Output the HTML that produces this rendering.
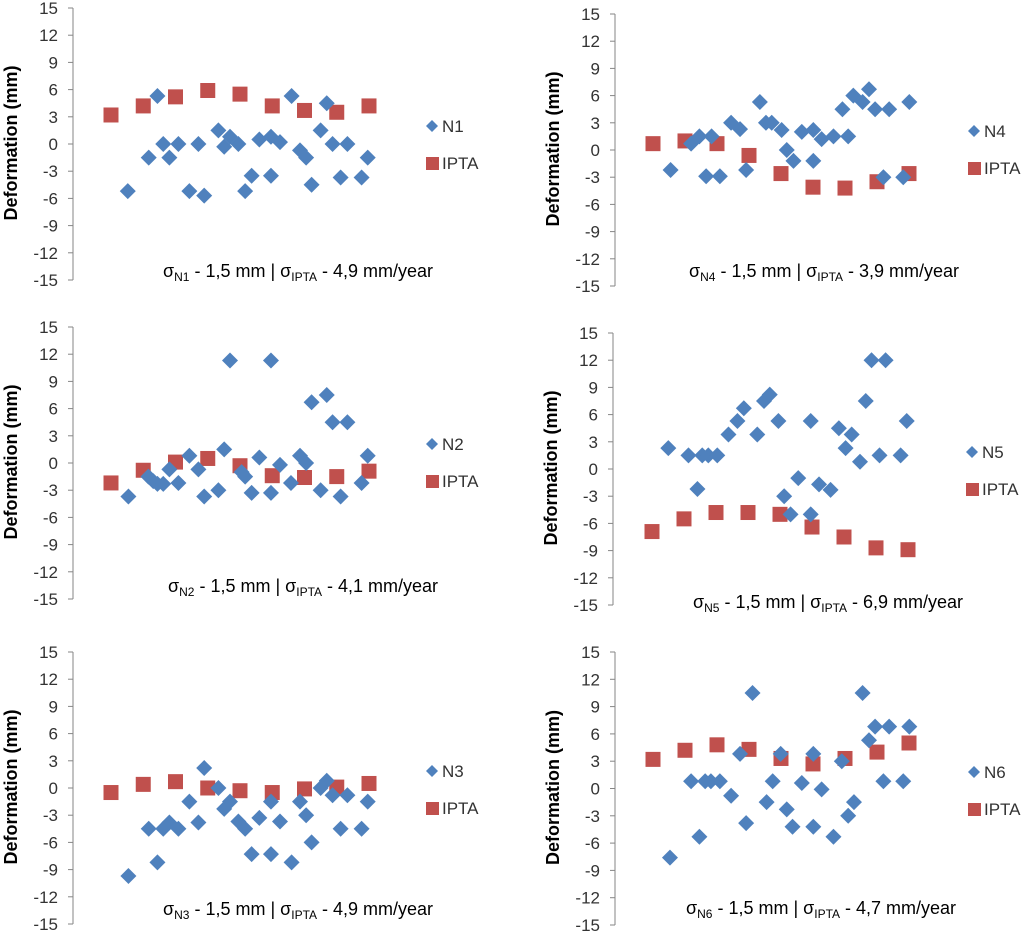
<!DOCTYPE html>
<html><head><meta charset="utf-8"><style>
html,body{margin:0;padding:0;background:#fff;}
svg{display:block;font-family:"Liberation Sans",Arial,sans-serif;}
</style></head><body>
<svg id="chart" width="1024" height="934" viewBox="0 0 1024 934" xmlns="http://www.w3.org/2000/svg"></svg>
<script>
const yTicks = [15,12,9,6,3,0,-3,-6,-9,-12,-15];
const panelNames = ["N1","N2","N3","N4","N5","N6"];
const sigmaIPTA = ["4,9","4,1","4,9","3,9","6,9","4,7"];
const n1X = [0.52,1.17,1.44,1.62,1.81,2.09,2.43,2.71,2.89,3.33,3.51,3.69,3.95,4.16,4.36,4.60,4.96,4.96,5.24,5.60,5.86,6.05,6.22,6.50,6.69,6.87,7.12,7.33,7.77,7.96];
const n1Y = [-5.2,-1.5,5.3,0,-1.5,0,-5.2,0,-5.7,1.5,-0.3,0.8,0,-5.2,-3.5,0.5,0.8,-3.5,0.2,5.3,-0.7,-1.5,-4.5,1.5,4.5,0,-3.7,0,-3.7,-1.5];
const n2X = [0.54,1.16,1.31,1.44,1.62,1.81,2.09,2.43,2.71,2.89,3.33,3.51,3.69,4.05,4.16,4.36,4.60,4.96,4.96,5.24,5.58,5.86,6.05,6.22,6.50,6.69,6.87,7.12,7.33,7.77,7.96];
const n2Y = [-3.7,-1.5,-2,-2.3,-2.3,-0.7,-2.2,0.8,-0.7,-3.7,-3.0,1.5,11.3,-1.0,-1.5,-3.3,0.6,11.3,-3.3,-0.2,-2.2,0.8,0,6.7,-3.0,7.5,4.5,-3.7,4.5,-2.2,0.8];
const n3X = [0.54,1.17,1.44,1.62,1.81,2.09,2.43,2.71,2.89,3.33,3.51,3.69,3.95,4.16,4.36,4.60,4.96,4.96,5.24,5.60,5.86,6.05,6.22,6.50,6.69,6.87,7.12,7.33,7.77,7.96];
const n3Y = [-9.7,-4.5,-8.2,-4.5,-3.8,-4.5,-1.5,-3.8,2.2,0,-2.3,-1.5,-3.7,-4.5,-7.3,-3.3,-7.3,-1.5,-3.7,-8.2,-1.5,-3.0,-6.0,0,0.8,-0.8,-4.5,-0.8,-4.5,-1.5];
const n4X = [0.55,1.19,1.45,1.66,1.83,2.09,2.44,2.72,2.91,3.34,3.53,3.71,4.02,4.18,4.39,4.65,5.01,5.01,5.27,5.64,5.92,6.10,6.26,6.55,6.75,6.94,7.20,7.38,7.82,8.01];
const n4Y = [-2.2,0.7,1.5,-2.9,1.5,-2.9,3.0,2.3,-2.2,5.3,3.0,3.0,2.2,0,-1.2,2.0,2.2,-1.2,1.2,1.5,4.5,1.5,6.0,5.3,6.7,4.5,-3.0,4.5,-3.0,5.3];
const n5X = [0.51,1.14,1.42,1.57,1.76,2.04,2.39,2.67,2.87,3.29,3.50,3.68,3.95,4.13,4.33,4.57,4.96,4.96,5.22,5.58,5.84,6.05,6.24,6.50,6.68,6.86,7.11,7.30,7.77,7.96];
const n5Y = [2.3,1.5,-2.2,1.5,1.5,1.5,3.8,5.3,6.7,3.8,7.5,8.2,5.3,-3.0,-5.0,-1.0,5.3,-5.0,-1.7,-2.3,4.5,2.3,3.8,0.8,7.5,12,1.5,12,1.5,5.3];
const n6X = [0.53,1.19,1.45,1.63,1.81,2.09,2.44,2.72,2.91,3.11,3.55,3.74,3.99,4.18,4.36,4.65,5.01,5.01,5.27,5.64,5.90,6.10,6.28,6.55,6.75,6.94,7.20,7.38,7.82,8.01];
const n6Y = [-7.6,0.8,-5.3,0.8,0.8,0.8,-0.8,3.8,-3.8,10.5,-1.5,0.8,3.8,-2.3,-4.2,0.6,3.8,-4.2,-0.1,-5.3,3.0,-3.0,-1.5,10.5,5.3,6.8,0.8,6.8,0.8,6.8];
const iptaX = [0,1,2,3,4,5,6,7,8];
const ipta1 = [3.2,4.2,5.2,5.9,5.5,4.2,3.7,3.5,4.2];
const ipta2 = [-2.2,-0.8,0.1,0.5,-0.3,-1.4,-1.6,-1.5,-0.9];
const ipta3 = [-0.5,0.4,0.7,0,-0.3,-0.5,-0.1,0.1,0.5];
const ipta4 = [0.7,1.0,0.7,-0.6,-2.6,-4.1,-4.2,-3.5,-2.6];
const ipta5 = [-6.9,-5.5,-4.8,-4.8,-5.0,-6.4,-7.5,-8.7,-8.9];
const ipta6 = [3.2,4.2,4.8,4.3,3.3,2.7,3.3,4.0,5.0];

const blueX=[n1X,n2X,n3X,n4X,n5X,n6X], blueY=[n1Y,n2Y,n3Y,n4Y,n5Y,n6Y];
const redY=[ipta1,ipta2,ipta3,ipta4,ipta5,ipta6];
const layout=[
 {ax:73,x0:111,dx:32.25,yt:8,yb:280,ly:126,sx:163,sy:277},
 {ax:73,x0:111,dx:32.25,yt:327,yb:599,ly:444,sx:168,sy:592},
 {ax:73,x0:111,dx:32.25,yt:652,yb:924,ly:771,sx:163,sy:915},
 {ax:615,x0:653,dx:32,yt:14,yb:286,ly:131,sx:689,sy:277},
 {ax:613,x0:652,dx:32,yt:333,yb:605,ly:452,sx:693,sy:608},
 {ax:615,x0:653,dx:32,yt:652,yb:925,ly:772,sx:686,sy:914}
];
const NS="http://www.w3.org/2000/svg";
const svg=document.getElementById('chart');
function mk(tag,attrs,parent){const e=document.createElementNS(NS,tag);for(const k in attrs)e.setAttribute(k,attrs[k]);(parent||svg).appendChild(e);return e;}
function diamond(cx,cy,r){return `M${cx},${cy-r}L${cx+r},${cy}L${cx},${cy+r}L${cx-r},${cy}Z`;}
layout.forEach((L,p)=>{
  const g=mk('g',{});
  
  
  const ys=v=>L.yt+(15-v)/30*(L.yb-L.yt);
  const xs=u=>L.x0+u*L.dx;
  const axis=mk('line',{x1:L.ax,x2:L.ax,y1:ys(15),y2:ys(-15),stroke:'#868686','stroke-width':1},g);
  
  
  yTicks.forEach(t=>{
    mk('line',{x1:L.ax-5,x2:L.ax,y1:ys(t),y2:ys(t),stroke:'#868686','stroke-width':1},g);
    const tx=mk('text',{x:L.ax-15,y:ys(t)+6,'text-anchor':'end','font-size':17,fill:'#333'},g);
    tx.textContent=t;
    
    
  });
  const cy=ys(0);
  const tt=mk('text',{x:0,y:0,'text-anchor':'middle','font-size':18,'font-weight':'bold',fill:'#000',transform:`translate(${L.ax-56},${cy-1}) rotate(-90)`},g);
  tt.textContent='Deformation (mm)';
  
  
  redY[p].forEach((v,i)=>{
    const r=mk('rect',{x:xs(iptaX[i])-7.5,y:ys(v)-7.5,width:15,height:15,fill:'#C0504D'},g);
    
    
  });
  blueX[p].forEach((u,i)=>{
    const d=mk('path',{d:diamond(xs(u),ys(blueY[p][i]),8),fill:'#4F81BD'},g);
    
    
  });
  const lx=L.ax+359;
  const ld=mk('path',{d:diamond(lx,L.ly,6),fill:'#4F81BD'},g);
  
  
  const lt=mk('text',{x:lx+10,y:L.ly+6,'font-size':17,fill:'#333'},g);
  lt.textContent=panelNames[p];
  
  
  const lr=mk('rect',{x:lx-6,y:L.ly+31,width:13,height:13,fill:'#C0504D'},g);
  
  
  const lt2=mk('text',{x:lx+10,y:L.ly+43,'font-size':17,fill:'#333'},g);
  lt2.textContent='IPTA';
  
  
  const st=mk('text',{x:L.sx,y:L.sy,'font-size':18,fill:'#000'},g);
  st.innerHTML=`σ<tspan font-size="12" dy="4">${panelNames[p]}</tspan><tspan dy="-4"> - 1,5 mm | σ</tspan><tspan font-size="12" dy="4">IPTA</tspan><tspan dy="-4"> - ${sigmaIPTA[p]} mm/year</tspan>`;
  
  
});
</script>
</body></html>
